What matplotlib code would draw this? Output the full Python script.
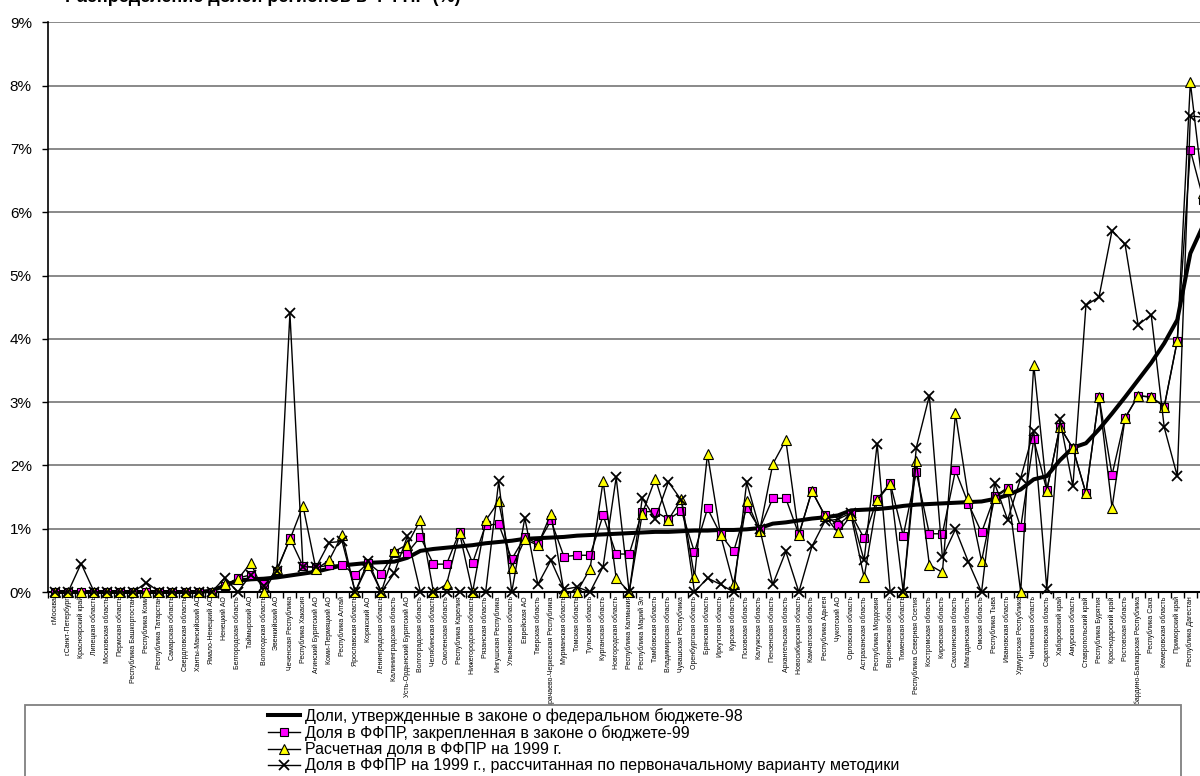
import matplotlib
matplotlib.use('Agg')
import matplotlib.pyplot as plt
from matplotlib.lines import Line2D
from matplotlib.patches import Rectangle

plt.rcParams['font.family'] = ['Liberation Sans', 'DejaVu Sans']

# regions, sorted by the 1998 share
regions = [
    'г.Москва', 'г.Санкт-Петербург', 'Красноярский край', 'Липецкая область',
    'Московская область', 'Пермская область', 'Республика Башкортостан',
    'Республика Коми', 'Республика Татарстан', 'Самарская область',
    'Свердловская область', 'Ханты-Мансийский АО', 'Ямало-Ненецкий АО',
    'Ненецкий АО', 'Белгородская область', 'Таймырский АО', 'Вологодская область',
    'Эвенкийский АО', 'Чеченская Республика', 'Республика Хакасия',
    'Агинский Бурятский АО', 'Коми-Пермяцкий АО', 'Республика Алтай',
    'Ярославская область', 'Корякский АО', 'Ленинградская область',
    'Калининградская область', 'Усть-Ордынский Бурятский АО',
    'Волгоградская область', 'Челябинская область', 'Смоленская область',
    'Республика Карелия', 'Нижегородская область', 'Рязанская область',
    'Ингушская Республика', 'Ульяновская область', 'Еврейская АО',
    'Тверская область', 'Карачаево-Черкесская Республика', 'Мурманская область',
    'Томская область', 'Тульская область', 'Курганская область',
    'Новгородская область', 'Республика Калмыкия', 'Республика Марий Эл',
    'Тамбовская область', 'Владимирская область', 'Чувашская Республика',
    'Оренбургская область', 'Брянская область', 'Иркутская область',
    'Курская область', 'Псковская область', 'Калужская область',
    'Пензенская область', 'Архангельская область', 'Новосибирская область',
    'Камчатская область', 'Республика Адыгея', 'Чукотский АО',
    'Орловская область', 'Астраханская область', 'Республика Мордовия',
    'Воронежская область', 'Тюменская область', 'Республика Северная Осетия',
    'Костромская область', 'Кировская область', 'Сахалинская область',
    'Магаданская область', 'Омская область', 'Республика Тыва',
    'Ивановская область', 'Удмуртская Республика', 'Читинская область',
    'Саратовская область', 'Хабаровский край', 'Амурская область',
    'Ставропольский край', 'Республика Бурятия', 'Краснодарский край',
    'Ростовская область', 'Кабардино-Балкарская Республика', 'Республика Саха',
    'Кемеровская область', 'Приморский край', 'Республика Дагестан',
    'Алтайский край',
]

# shares, %
fb98 = [0, 0, 0, 0, 0, 0, 0, 0, 0, 0, 0, 0, 0.02,
        0.10, 0.18, 0.20, 0.21, 0.23, 0.26, 0.29, 0.32, 0.37, 0.42,
        0.44, 0.46, 0.47, 0.48, 0.54, 0.65, 0.68, 0.70, 0.72, 0.74,
        0.77, 0.79, 0.81, 0.84, 0.85, 0.86, 0.87, 0.89, 0.90, 0.91,
        0.92, 0.93, 0.94, 0.95, 0.95, 0.96, 0.97, 0.97, 0.98, 0.98,
        0.99, 1.01, 1.08, 1.10, 1.13, 1.16, 1.18, 1.21, 1.29, 1.30,
        1.31, 1.33, 1.36, 1.38, 1.39, 1.40, 1.41, 1.42, 1.43, 1.47,
        1.53, 1.62, 1.78, 1.83, 2.08, 2.28, 2.35, 2.57, 2.82, 3.08,
        3.35, 3.62, 3.93, 4.30, 5.35, 5.80]

ffpr99 = [0, 0, 0, 0, 0, 0, 0, 0, 0, 0, 0, 0, 0,
          0.10, 0.22, 0.27, 0.13, 0.33, 0.85, 0.41, 0.39, 0.42, 0.43,
          0.27, 0.46, 0.29, 0.62, 0.62, 0.87, 0.44, 0.44, 0.95, 0.46,
          1.06, 1.07, 0.52, 0.87, 0.76, 1.13, 0.56, 0.58, 0.58, 1.21,
          0.60, 0.60, 1.27, 1.27, 1.15, 1.28, 0.63, 1.32, 0.91, 0.64,
          1.33, 1.00, 1.48, 1.48, 0.91, 1.59, 1.21, 1.06, 1.23, 0.85,
          1.47, 1.72, 0.89, 1.89, 0.92, 0.92, 1.92, 1.39, 0.94, 1.51,
          1.65, 1.02, 2.41, 1.61, 2.61, 2.27, 1.56, 3.08, 1.85, 2.75,
          3.10, 3.08, 2.93, 3.97, 6.98, 6.20]

calc99 = [0, 0, 0, 0, 0, 0, 0, 0, 0, 0, 0, 0, 0,
          0.12, 0.20, 0.46, 0.00, 0.36, 0.83, 1.36, 0.36, 0.50, 0.90,
          0.00, 0.43, 0.00, 0.64, 0.75, 1.14, 0.00, 0.12, 0.93, 0.00,
          1.13, 1.43, 0.38, 0.83, 0.74, 1.24, 0.00, 0.00, 0.37, 1.75,
          0.22, 0.00, 1.24, 1.79, 1.14, 1.47, 0.24, 2.18, 0.90, 0.12,
          1.44, 0.97, 2.02, 2.40, 0.90, 1.60, 1.20, 0.94, 1.21, 0.23,
          1.45, 1.70, 0.00, 2.07, 0.43, 0.31, 2.82, 1.48, 0.49, 1.49,
          1.63, 0.00, 3.59, 1.60, 2.61, 2.27, 1.56, 3.08, 1.33, 2.75,
          3.10, 3.08, 2.93, 3.97, 8.05, 6.30]

orig99 = [0, 0, 0.45, 0, 0, 0, 0, 0.15, 0, 0, 0, 0, 0,
          0.22, 0.00, 0.27, 0.10, 0.33, 4.40, 0.40, 0.39, 0.78, 0.80,
          0.00, 0.49, 0.00, 0.30, 0.88, 0.00, 0.00, 0.00, 0.00, 0.00,
          0.00, 1.75, 0.00, 1.17, 0.12, 0.50, 0.04, 0.08, 0.00, 0.40,
          1.81, 0.00, 1.48, 1.16, 1.74, 1.45, 0.00, 0.22, 0.12, 0.00,
          1.73, 1.00, 0.12, 0.64, 0.00, 0.72, 1.12, 1.15, 1.25, 0.50,
          2.34, 0.00, 0.00, 2.28, 3.10, 0.55, 0.99, 0.47, 0.00, 1.72,
          1.14, 1.80, 2.55, 0.05, 2.73, 1.67, 4.53, 4.66, 5.71, 5.49,
          4.22, 4.38, 2.60, 1.83, 7.52, 7.50]

labels = [
    'Доли, утвержденные в законе о федеральном бюджете-98',
    'Доля в ФФПР, закрепленная в законе о бюджете-99',
    'Расчетная доля в ФФПР на 1999 г.',
    'Доля в ФФПР на 1999 г., рассчитанная по первоначальному варианту методики',
]

fig = plt.figure(figsize=(12, 7.76), dpi=100)
ax = fig.add_axes([48.5 / 1200, 1 - 592 / 776, 1151.5 / 1200, 569.7 / 776])

x = list(range(len(regions)))
s_a = dict(color='black', lw=2.9, solid_joinstyle='round')
s_b = dict(color='black', lw=1.0, marker='s', ms=6, mfc='#ff00ff', mec='black', mew=0.8)
s_c = dict(color='black', lw=1.0, marker='^', ms=7, mfc='#ffff00', mec='black', mew=0.8)
s_d = dict(color='black', lw=1.0, marker='x', ms=7, mec='black', mew=1.3)

ax.plot(x, fb98, zorder=3, clip_on=False, **s_a)
ax.plot(x, ffpr99, zorder=4, clip_on=False, **s_b)
ax.plot(x, calc99, zorder=5, clip_on=False, **s_c)
ax.plot(x, orig99, zorder=6, clip_on=False, **s_d)

ax.set_yticks(range(10))
ax.set_yticklabels([f'{v}%' for v in range(10)], fontsize=11)
ax.yaxis.grid(True, color='#808080', lw=1.3)
ax.set_axisbelow(True)

ax.set_xticks([i + 0.5 for i in range(-1, len(regions))])
ax.set_xticklabels([])
ax.set_xticks(x, minor=True)
ax.set_xticklabels(regions, minor=True, rotation=90, fontsize=5)
ax.tick_params(axis='x', which='minor', length=0, pad=3)
ax.tick_params(axis='x', which='major', length=4, width=1, direction='out')
ax.tick_params(axis='y', length=4, width=1, direction='out', pad=8)

# limits after the ticks, the last region runs past the right edge
ax.set_xlim(-0.5, 87.74)
ax.set_ylim(0, 9)

for side in ('top', 'right'):
    ax.spines[side].set_visible(False)
ax.spines['left'].set_linewidth(1.2)
ax.spines['bottom'].set_linewidth(1.5)

# legend box, cut off by the bottom of the picture
fig.add_artist(Rectangle((25 / 1200, -0.1), (1181 - 25) / 1200, 0.1 + 1 - 705 / 776,
                         transform=fig.transFigure, fc='white', ec='#808080',
                         lw=1.3, zorder=2))
handles = [Line2D([], [], **s_a), Line2D([], [], **s_b),
           Line2D([], [], **s_c), Line2D([], [], **s_d)]
leg = fig.legend(handles, labels, loc='upper left',
                 bbox_to_anchor=(268 / 1200, 1 - 708 / 776), frameon=False,
                 fontsize=11.5, handlelength=2.0, handletextpad=0.3,
                 labelspacing=0.08, borderpad=0, borderaxespad=0)
leg.set_zorder(3)

# title, mostly above the top edge
fig.text(65 / 1200, 1 - 2 / 776, 'Распределение долей регионов в ФФПР (%)',
         fontsize=13, fontweight='bold', va='baseline')

fig.savefig('out.png', dpi=100)
